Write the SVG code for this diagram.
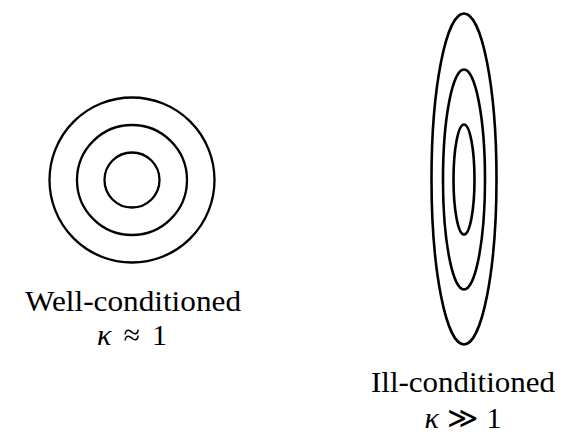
<svg xmlns="http://www.w3.org/2000/svg" width="565" height="448" viewBox="0 0 565 448">
<style>
.c{fill:none;stroke:#000;stroke-width:2.3}
.e{fill:none;stroke:#000;stroke-width:2.6}
text{font-family:"Liberation Serif","DejaVu Serif",serif;font-size:30px;fill:#000;text-anchor:middle}
.k{font-style:italic}
</style>
<rect width="565" height="448" fill="#fff"/>
<g id="well">
<circle class="c" cx="132" cy="180" r="82.5"/>
<circle class="c" cx="132" cy="180" r="55"/>
<circle class="c" cx="132" cy="180" r="27.5"/>
<text x="133" y="311" textLength="216" lengthAdjust="spacingAndGlyphs">Well-conditioned</text>
<text x="132" y="345" textLength="70" lengthAdjust="spacing"><tspan class="k">κ</tspan> ≈ 1</text>
</g>
<g id="ill">
<ellipse class="e" cx="464" cy="179" rx="32.5" ry="165.5"/>
<ellipse class="e" cx="464" cy="179.5" rx="21" ry="110"/>
<ellipse class="e" cx="464" cy="179.5" rx="10.5" ry="55"/>
<text x="463" y="392" textLength="184" lengthAdjust="spacingAndGlyphs">Ill-conditioned</text>
<text x="463" y="428" textLength="77" lengthAdjust="spacing"><tspan class="k">κ</tspan> ≫ 1</text>
</g>
<g id="connectors"/>
</svg>
